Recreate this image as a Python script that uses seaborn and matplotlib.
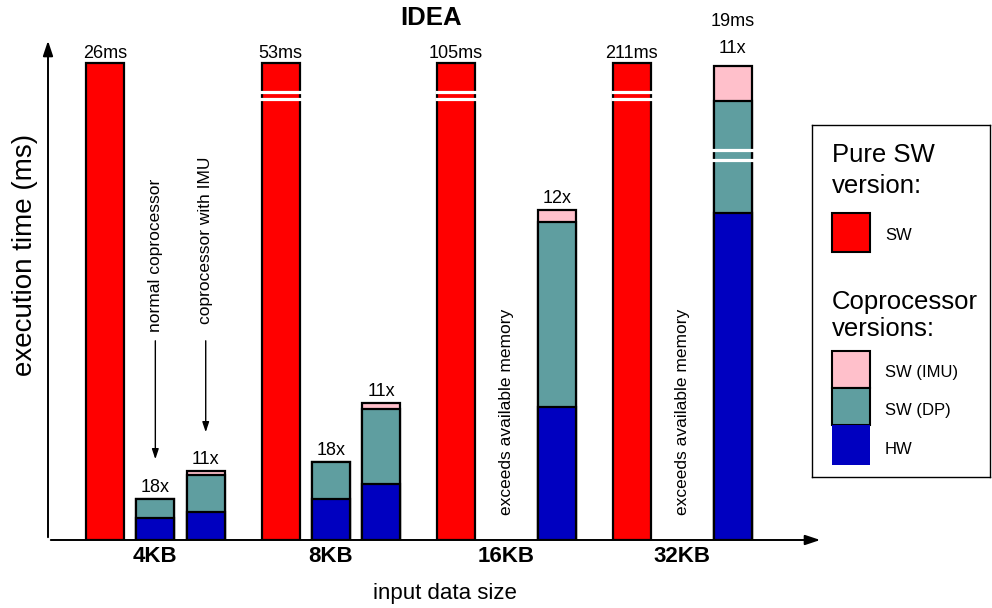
import matplotlib
matplotlib.use("Agg")
import matplotlib.pyplot as plt
import matplotlib.patches as mpatches
import numpy as np
import pandas as pd
import seaborn as sns

# data (heights in drawn units, the y axis is broken so no ticks)
sizes = ["4KB", "8KB", "16KB", "32KB"]
sw_pure = [477, 477, 477, 477]
# normal coprocessor (no IMU), None where it does not fit in memory
norm_hw = [22, 41, None, None]
norm_dp = [19, 37, None, None]
# coprocessor with IMU
imu_hw = [28, 56, 133, 327]
imu_dp = [37, 75, 185, 112]
imu_sw = [4, 6, 12, 35]

sw_labels = ["26ms", "53ms", "105ms", "211ms"]
norm_labels = ["18x", "18x", None, None]
imu_labels = ["11x", "11x", "12x", "19ms\n11x"]
sw_break = [False, True, True, True]
imu_break = [None, None, None, 385]

c_sw = "#ff0000"
c_imu = "#ffc0cb"
c_dp = "#5f9ea0"
c_hw = "#0000c0"

group_gap = 3.485
bar_w = 0.755

rows = []
for g in range(len(sizes)):
    base = g * group_gap
    rows.append((base, "sw", sw_pure[g]))
    if norm_hw[g] is not None:
        rows.append((base + 1, "tot", norm_hw[g] + norm_dp[g]))
        rows.append((base + 1, "dp", norm_hw[g] + norm_dp[g]))
        rows.append((base + 1, "hw", norm_hw[g]))
    rows.append((base + 2, "tot", imu_hw[g] + imu_dp[g] + imu_sw[g]))
    rows.append((base + 2, "dp", imu_hw[g] + imu_dp[g]))
    rows.append((base + 2, "hw", imu_hw[g]))
df = pd.DataFrame(rows, columns=["pos", "layer", "h"])

sns.set_style("white")
plt.rcParams["font.family"] = ["Liberation Sans", "DejaVu Sans"]
plt.rcParams["text.color"] = "black"
plt.rcParams["xtick.color"] = "black"
plt.rcParams["axes.labelcolor"] = "black"

fig = plt.figure(figsize=(9.92, 6.08), dpi=100)
ax = fig.add_axes([48 / 992, 1 - 540 / 608, (823 - 48) / 992, 500 / 608])

sns.barplot(data=df, x="pos", y="h", hue="layer", hue_order=["sw", "tot", "dp", "hw"],
            palette={"sw": c_sw, "tot": c_imu, "dp": c_dp, "hw": c_hw},
            dodge=False, native_scale=True, width=bar_w, errorbar=None, saturation=1,
            edgecolor="black", linewidth=1.6, legend=False, ax=ax, zorder=2)

ax.set_xlim(-1.13, 14.25)
ax.set_ylim(0, 500)
for s in ax.spines.values():
    s.set_visible(False)
ax.set_yticks([])
ax.set_xticks([g * group_gap + 1 for g in range(len(sizes))])
ax.set_xticklabels(sizes, fontsize=16, fontweight="bold")
ax.tick_params(axis="x", length=0, pad=4)
ax.set_xlabel("")
ax.set_ylabel("")
fig.text(445 / 992, 1 - 593 / 608, "input data size", fontsize=16, ha="center", va="center")
fig.text(25 / 992, 1 - 255 / 608, "execution time (ms)", fontsize=20, rotation=90,
         ha="center", va="center")
fig.text(431 / 992, 1 - 18 / 608, "IDEA", fontsize=18.5, fontweight="bold", ha="center", va="center")

# axis arrows
arrow = dict(arrowstyle="-|>,head_length=0.9,head_width=0.3", color="black", lw=1.4)
ax.annotate("", xy=(0, 1.004), xytext=(0, 0), xycoords="axes fraction", arrowprops=arrow, annotation_clip=False)
ax.annotate("", xy=(1.0, 0), xytext=(0, 0), xycoords="axes fraction", arrowprops=arrow, annotation_clip=False)

# break marks
for g in range(len(sizes)):
    base = g * group_gap
    if sw_break[g]:
        for yb in (448, 441):
            ax.hlines(yb, base - 0.42, base + 0.42, color="white", lw=2.3, zorder=4)
    if imu_break[g] is not None:
        for yb in (imu_break[g] + 5, imu_break[g] - 5):
            ax.hlines(yb, base + 2 - 0.42, base + 2 + 0.42, color="white", lw=2.3, zorder=4)

# value labels
for g in range(len(sizes)):
    base = g * group_gap
    ax.text(base, sw_pure[g] + 1, sw_labels[g], ha="center", va="bottom", fontsize=13)
    if norm_labels[g]:
        ax.text(base + 1, norm_hw[g] + norm_dp[g] + 3, norm_labels[g], ha="center", va="bottom", fontsize=13)
    top = imu_hw[g] + imu_dp[g] + imu_sw[g]
    two_lines = "\n" in imu_labels[g]
    ax.text(base + 2, top + (9 if two_lines else 3), imu_labels[g], ha="center", va="bottom",
            fontsize=13, linespacing=1.75 if two_lines else 1.2)

# vertical notes
ax.text(1, 285, "normal coprocessor", rotation=90, ha="center", va="center", fontsize=12.5)
ax.text(2, 300, "coprocessor with IMU", rotation=90, ha="center", va="center", fontsize=12.5)
small_arrow = dict(arrowstyle="-|>,head_length=0.6,head_width=0.2", color="black", lw=1)
ax.annotate("", xy=(1, 78), xytext=(1, 202), arrowprops=small_arrow)
ax.annotate("", xy=(2, 105), xytext=(2, 202), arrowprops=small_arrow)
for g in range(len(sizes)):
    if norm_hw[g] is None:
        ax.text(g * group_gap + 1, 128, "exceeds available memory", rotation=90,
                ha="center", va="center", fontsize=12.5)

# legend box
lax = fig.add_axes([812 / 992, 1 - 477 / 608, 178 / 992, 352 / 608])
lax.set_xlim(0, 178)
lax.set_ylim(352, 0)
lax.set_xticks([])
lax.set_yticks([])
for s in lax.spines.values():
    s.set_linewidth(1)
    s.set_color("black")
lax.text(20, 30, "Pure SW", fontsize=18.5, va="center")
lax.text(20, 61, "version:", fontsize=18.5, va="center")
lax.add_patch(mpatches.Rectangle((20, 88), 38, 39, facecolor=c_sw, edgecolor="black", lw=1.5))
lax.text(73, 110, "SW", fontsize=12, va="center")
lax.text(20, 177, "Coprocessor", fontsize=18.5, va="center")
lax.text(20, 204, "versions:", fontsize=18.5, va="center")
lax.add_patch(mpatches.Rectangle((20, 226), 38, 37, facecolor=c_imu, edgecolor="black", lw=1.5))
lax.add_patch(mpatches.Rectangle((20, 263), 38, 37, facecolor=c_dp, edgecolor="black", lw=1.5))
lax.add_patch(mpatches.Rectangle((20, 300), 38, 40, facecolor=c_hw, edgecolor="none"))
lax.text(73, 248, "SW (IMU)", fontsize=12, va="center")
lax.text(73, 286, "SW (DP)", fontsize=12, va="center")
lax.text(73, 325, "HW", fontsize=12, va="center")

fig.savefig("out.png", dpi=100)
